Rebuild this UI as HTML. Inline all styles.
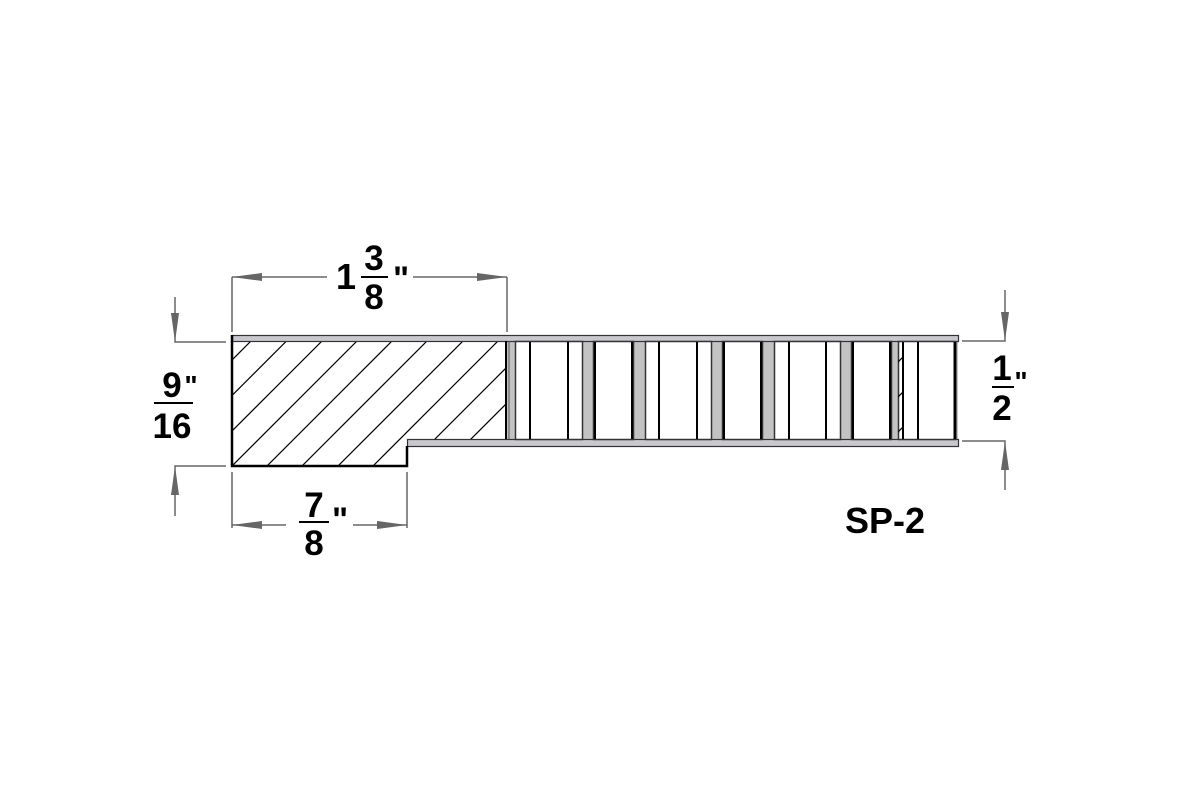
<!DOCTYPE html>
<html><head><meta charset="utf-8"><style>
html,body{margin:0;padding:0;background:#fff;}
svg{display:block}
text{font-family:"Liberation Sans",Arial,sans-serif;font-weight:bold;fill:#000}
</style></head><body>
<svg width="1200" height="800" viewBox="0 0 1200 800" xmlns="http://www.w3.org/2000/svg">
<defs>
<clipPath id="solid"><polygon points="233,342 505,342 505,439 407,439 407,465 233,465"/></clipPath>
<clipPath id="last"><rect x="898" y="342" width="5" height="97"/></clipPath>
</defs>
<rect x="507" y="341" width="451" height="98" fill="#c3c3c3"/>
<polygon points="233,341 507,341 507,439 407,439 407,465 233,465" fill="#fff"/>
<rect x="232.5" y="335.5" width="726" height="6" fill="#c8c9cf" stroke="#333" stroke-width="1.2"/>
<rect x="407.5" y="439.5" width="551" height="7" fill="#c8c9cf" stroke="#333" stroke-width="1.2"/>
<g clip-path="url(#solid)" stroke="#000" stroke-width="1.2">
<line x1="126" y1="466" x2="251" y2="341"/>
<line x1="161.5" y1="466" x2="286.5" y2="341"/>
<line x1="197" y1="466" x2="322" y2="341"/>
<line x1="232" y1="466" x2="357" y2="341"/>
<line x1="267" y1="466" x2="392" y2="341"/>
<line x1="302" y1="466" x2="427" y2="341"/>
<line x1="338" y1="466" x2="463" y2="341"/>
<line x1="373" y1="466" x2="498" y2="341"/>
<line x1="408" y1="466" x2="533" y2="341"/>
<line x1="444" y1="466" x2="569" y2="341"/>
<line x1="479" y1="466" x2="604" y2="341"/>
</g>
<polyline points="232,335 232,466 407,466 407,446" fill="none" stroke="#000" stroke-width="2.5"/>
<line x1="506" y1="341" x2="506" y2="439" stroke="#000" stroke-width="2"/>
<line x1="509" y1="341" x2="509" y2="439" stroke="#555" stroke-width="1"/>
<g fill="#fff" stroke="#333" stroke-width="1.5">
<rect x="515.5" y="341.5" width="67" height="98"/>
<rect x="593.5" y="341.5" width="40" height="98"/>
<rect x="645.5" y="341.5" width="66" height="98"/>
<rect x="722.5" y="341.5" width="40" height="98"/>
<rect x="774.5" y="341.5" width="66" height="98"/>
<rect x="851.5" y="341.5" width="40" height="98"/>
<rect x="898.5" y="341.5" width="57" height="98"/>
</g>
<g stroke="#000" stroke-width="2">
<line x1="530" y1="342" x2="530" y2="439"/>
<line x1="568" y1="342" x2="568" y2="439"/>
<line x1="659" y1="342" x2="659" y2="439"/>
<line x1="697" y1="342" x2="697" y2="439"/>
<line x1="789" y1="342" x2="789" y2="439"/>
<line x1="826" y1="342" x2="826" y2="439"/>
<line x1="903" y1="342" x2="903" y2="439"/>
<line x1="918" y1="342" x2="918" y2="439"/>
<line x1="955" y1="342" x2="955" y2="439" stroke-width="3"/>
<line x1="595" y1="342" x2="595" y2="439"/>
<line x1="632" y1="342" x2="632" y2="439"/>
<line x1="724" y1="342" x2="724" y2="439"/>
<line x1="761" y1="342" x2="761" y2="439"/>
<line x1="853" y1="342" x2="853" y2="439"/>
<line x1="890" y1="342" x2="890" y2="439"/>
</g>
<g clip-path="url(#last)" stroke="#000" stroke-width="1.2">
<line x1="880" y1="380" x2="920" y2="340"/>
<line x1="880" y1="415" x2="920" y2="375"/>
<line x1="880" y1="450" x2="920" y2="410"/>
</g>
<g stroke="#666" stroke-width="1.5" fill="none">
<line x1="232" y1="277" x2="232" y2="332"/>
<line x1="507" y1="277" x2="507" y2="332"/>
<line x1="232" y1="277" x2="327" y2="277"/>
<line x1="413" y1="277" x2="507" y2="277"/>
<line x1="232" y1="472" x2="232" y2="528"/>
<line x1="407" y1="472" x2="407" y2="528"/>
<line x1="232" y1="525" x2="286" y2="525"/>
<line x1="353" y1="525" x2="407" y2="525"/>
<polyline points="175,297 175,342 226,342"/>
<polyline points="175,516 175,466 226,466"/>
<polyline points="1005,290 1005,341 962,341"/>
<polyline points="1005,490 1005,441 962,441"/>
</g>
<g fill="#666">
<polygon points="232,277 262,273 262,281"/>
<polygon points="507,277 477,273 477,281"/>
<polygon points="232,525 262,521 262,529"/>
<polygon points="407,525 377,521 377,529"/>
<polygon points="175,342 171,313 179,313"/>
<polygon points="175,466 171,495 179,495"/>
<polygon points="1005,341 1001,312 1009,312"/>
<polygon points="1005,441 1001,470 1009,470"/>
</g>
<text x="346" y="289" font-size="36" text-anchor="middle">1</text>
<text x="374" y="270" font-size="35" text-anchor="middle">3</text>
<line x1="361" y1="277" x2="388" y2="277" stroke="#000" stroke-width="2"/>
<text x="374" y="309" font-size="35" text-anchor="middle">8</text>
<text x="401" y="290" font-size="34" text-anchor="middle">"</text>

<text x="314" y="517" font-size="35" text-anchor="middle">7</text>
<line x1="299" y1="522" x2="329" y2="522" stroke="#000" stroke-width="2"/>
<text x="314" y="555" font-size="35" text-anchor="middle">8</text>
<text x="340" y="531" font-size="34" text-anchor="middle">"</text>

<text x="172" y="397" font-size="35" text-anchor="middle">9</text>
<line x1="154" y1="403" x2="193" y2="403" stroke="#000" stroke-width="2"/>
<text x="172" y="438" font-size="35" text-anchor="middle">16</text>
<text x="191" y="395" font-size="28" text-anchor="middle">"</text>

<text x="1002" y="380" font-size="35" text-anchor="middle">1</text>
<line x1="992" y1="387" x2="1014" y2="387" stroke="#000" stroke-width="2"/>
<text x="1002" y="420" font-size="35" text-anchor="middle">2</text>
<text x="1021" y="391" font-size="28" text-anchor="middle">"</text>

<text x="885" y="533" font-size="36" text-anchor="middle">SP-2</text>
</svg>
</body></html>
